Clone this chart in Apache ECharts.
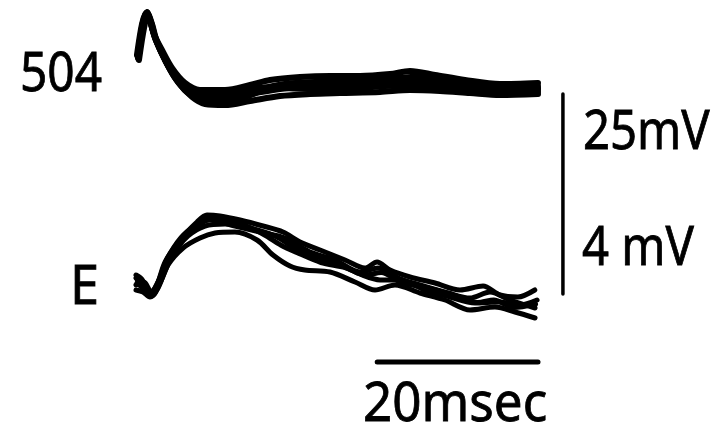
<!DOCTYPE html>
<html><head><meta charset="utf-8">
<script src="https://cdn.jsdelivr.net/npm/echarts@6/dist/echarts.min.js"></script>
<style>html,body{margin:0;padding:0;background:#fff}#c{width:711px;height:426px}</style>
</head><body><div id="c"></div>
<script>
// Unit 504 sweeps: [time ms, potential mV]
const unit504_sweep1 = [[0.25,4.0],[0.87,8.12],[1.37,9.75],[1.74,8.75],[2.36,6.5],[3.36,4.38],[4.6,2.0],[6.09,0.12],[7.96,-1.0],[10.45,-1.12],[14.18,-0.5],[17.91,0.12],[21.64,0.5],[25.37,0.62],[30.35,0.88],[34.08,1.12],[37.81,0.88],[41.54,0.5],[45.27,0.25],[50.0,0.12]];
const unit504_sweep2 = [[0.12,4.38],[0.75,8.25],[1.24,9.62],[1.62,9.0],[2.24,7.0],[3.23,5.0],[4.48,2.75],[6.09,0.88],[7.96,0],[11.07,0],[14.18,0.62],[16.67,1.25],[20.4,1.62],[24.13,1.75],[27.86,1.75],[31.59,2.0],[34.08,2.38],[37.19,1.88],[40.92,1.25],[45.27,0.75],[50.0,0.88]];
const unit504_sweep3 = [[0.37,3.75],[1.0,7.75],[1.49,9.5],[1.99,8.25],[2.61,6.0],[3.73,3.5],[5.22,1.0],[6.97,-0.88],[8.58,-1.75],[11.07,-1.88],[14.18,-1.38],[17.91,-0.75],[21.64,-0.5],[25.37,-0.38],[30.35,-0.25],[34.08,0],[37.81,-0.12],[41.54,-0.38],[45.27,-0.62],[50.0,-0.5]];
const unit504_sweep4 = [[0.25,4.12],[0.87,8.0],[1.37,9.62],[1.87,8.5],[2.49,6.25],[3.61,3.75],[4.98,1.5],[6.72,-0.38],[8.58,-1.25],[11.69,-0.88],[14.8,0],[18.53,0.75],[22.26,1.0],[25.99,1.25],[29.73,1.25],[33.46,1.5],[36.57,1.38],[40.3,0.75],[44.65,0.38],[50.0,0.5]];
const unit504_sweep5 = [[0.3,3.9],[0.9,8.0],[1.4,9.7],[1.8,8.6],[2.45,6.3],[3.5,4.0],[4.8,1.6],[6.4,-0.3],[8.3,-1.4],[10.8,-1.5],[13.5,-0.9],[17.0,0.4],[20.5,0.9],[24.5,1.0],[28.5,1.1],[32.5,1.5],[35.5,1.7],[38.5,1.2],[42.0,0.2],[46.0,-0.1],[50.0,-0.2]];
const unit504_sweep6 = [[0.2,4.2],[0.8,8.2],[1.3,9.7],[1.7,8.9],[2.3,6.8],[3.3,4.6],[4.5,2.4],[5.9,0.5],[7.6,-0.6],[10.0,-0.5],[12.5,-0.2],[16.0,0.3],[19.5,0.2],[23.0,0.1],[27.0,0.2],[31.0,0.5],[34.5,0.6],[38.0,0.4],[42.0,0.0],[46.0,0.0],[50.0,0.2]];
// Trace E sweeps: [time ms, potential mV]
const traceE_sweep1 = [[0,0.24],[0.75,0.1],[1.49,-0.06],[2.36,0],[3.61,0.56],[5.47,1.0],[7.59,1.36],[8.83,1.5],[10.45,1.48],[12.94,1.4],[15.8,1.28],[18.28,1.16],[20.4,0.96],[22.89,0.8],[26.0,0.6],[28.48,0.44],[29.98,0.56],[31.6,0.4],[34.08,0.26],[37.19,0.14],[40.3,0],[43.16,0.08],[45.27,-0.1],[47.5,-0.14],[49.6,0]];
const traceE_sweep2 = [[0,0],[0.87,-0.04],[1.74,-0.14],[2.74,0.04],[3.98,0.5],[5.85,0.84],[7.96,1.04],[9.83,1.14],[12.31,1.16],[15.05,1.0],[17.04,0.7],[19.15,0.48],[21.0,0.4],[24.13,0.36],[27.24,0.16],[29.73,0],[32.21,0.1],[35.32,-0.06],[38.43,-0.2],[41.54,-0.4],[44.65,-0.34],[47.14,-0.44],[49.63,-0.56]];
const traceE_sweep3 = [[0.12,0.14],[1.12,0],[1.99,-0.12],[2.99,0.14],[4.48,0.68],[6.47,1.08],[8.58,1.28],[11.07,1.32],[14.18,1.24],[17.29,1.08],[19.78,0.84],[22.26,0.68],[25.37,0.5],[28.11,0.3],[30.35,0.2],[32.84,0.2],[35.95,0],[39.05,-0.14],[42.16,-0.26],[45.27,-0.24],[47.76,-0.3],[49.88,-0.2]];
const traceE_sweep4 = [[0,0.1],[1.0,0.16],[1.87,-0.04],[2.99,0.24],[4.85,0.8],[6.97,1.2],[9.2,1.4],[12.31,1.28],[15.42,1.16],[18.53,1.04],[21.64,0.76],[24.75,0.6],[27.86,0.36],[30.1,0.44],[32.59,0.24],[35.32,0.1],[38.81,-0.06],[41.54,-0.16],[44.03,-0.04],[46.52,-0.2],[49.63,-0.36]];
const traceE_sweep5 = [[0,0.3],[0.8,0.2],[1.6,-0.1],[2.6,0.1],[3.8,0.6],[5.6,1.05],[7.5,1.3],[9.5,1.45],[11.5,1.4],[13.5,1.3],[16.0,1.1],[18.0,0.9],[20.0,0.75],[23.0,0.55],[26.0,0.45],[28.5,0.3],[30.5,0.35],[33.0,0.15],[36.0,0.05],[39.5,-0.1],[42.5,-0.25],[44.5,-0.2],[47.0,-0.35],[49.7,-0.28]];
// Scale bars
const timeBar = [[30,-1.44],[50,-1.44]];      // 20 msec (on E axes)
const voltBar = [[53.1,-0.5],[53.1,-25.5]];   // 25 mV (on 504 axes) / 4 mV on E
const labels = {top:'504', bottom:'E', volt1:'25mV', volt2:'4 mV', time:'20msec'};

const chart = echarts.init(document.getElementById('c'), null, {renderer:'canvas'});
const FONT = 'Noto Sans';
function trace(data, xi, yi, w){
  return {type:'line', xAxisIndex:xi, yAxisIndex:yi, data:data, showSymbol:false, symbol:'none',
    smooth:0.3, lineStyle:{color:'#000', width:w, cap:'round', join:'round'}, silent:true, animation:false};
}
const grid = {left:136, top:10, width:482.4, height:400};
const hidden = {show:false};
function txt(t, x, y, sx){
  return {type:'text', x:x, y:y, scaleX:sx, style:{text:t, fill:'#000', font:'normal 55px "'+FONT+'"', textAlign:'left', textVerticalAlign:'middle', stroke:'#000', lineWidth:0.8}};
}
chart.setOption({
  animation:false,
  backgroundColor:'#fff',
  grid:[Object.assign({}, grid), Object.assign({}, grid)],
  xAxis:[
    {type:'value', gridIndex:0, min:0, max:60, axisLine:hidden, axisTick:hidden, axisLabel:hidden, splitLine:hidden},
    {type:'value', gridIndex:1, min:0, max:60, axisLine:hidden, axisTick:hidden, axisLabel:hidden, splitLine:hidden}
  ],
  yAxis:[
    {type:'value', gridIndex:0, min:-40, max:10, axisLine:hidden, axisTick:hidden, axisLabel:hidden, splitLine:hidden},
    {type:'value', gridIndex:1, min:-2.4, max:5.6, axisLine:hidden, axisTick:hidden, axisLabel:hidden, splitLine:hidden}
  ],
  series:[
    trace(unit504_sweep1,0,0,6), trace(unit504_sweep2,0,0,6), trace(unit504_sweep3,0,0,6),
    trace(unit504_sweep4,0,0,6), trace(unit504_sweep5,0,0,6), trace(unit504_sweep6,0,0,6),
    trace(traceE_sweep1,1,1,5), trace(traceE_sweep2,1,1,5), trace(traceE_sweep3,1,1,5),
    trace(traceE_sweep4,1,1,5), trace(traceE_sweep5,1,1,5),
    Object.assign(trace(timeBar,1,1,5), {smooth:false}),
    Object.assign(trace(voltBar,0,0,3.5), {smooth:false})
  ],
  graphic:[
    txt(labels.top, 20, 75, 0.87),
    txt(labels.bottom, 70, 288, 0.95),
    txt(labels.volt1, 583, 133, 0.86),
    txt(labels.volt2, 582, 249, 0.86),
    txt(labels.time, 363, 405, 0.93)
  ]
});
</script></body></html>
